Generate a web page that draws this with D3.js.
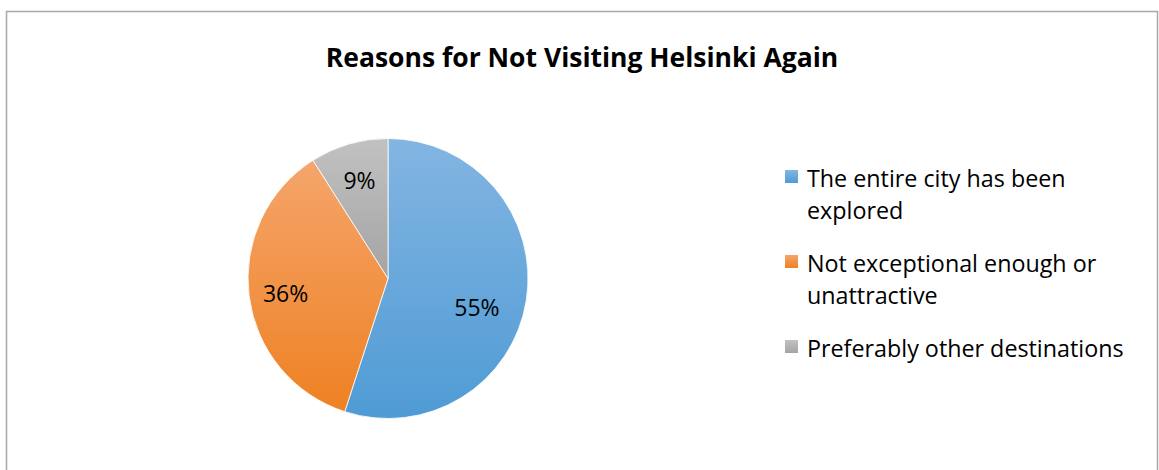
<!DOCTYPE html>
<html>
<head>
<meta charset="utf-8">
<script src="https://cdn.jsdelivr.net/npm/d3@7"></script>
<style>
  html, body { margin: 0; padding: 0; background: #fff; }
  svg { display: block; }
</style>
</head>
<body>
<svg id="chart" width="1159" height="470"></svg>
<script>
// Survey answers: why respondents would not visit Helsinki again
const categories = [
  "The entire city has been explored",
  "Not exceptional enough or unattractive",
  "Preferably other destinations"
];
const values = [55, 36, 9];
const legendLines = [
  ["The entire city has been", "explored"],
  ["Not exceptional enough or", "unattractive"],
  ["Preferably other destinations"]
];
const colorsTop = ["#83b5e2", "#f5a56c", "#c1c1c1"];
const colorsBottom = ["#4f9bd5", "#ee8122", "#a4a4a4"];
const titleText = "Reasons for Not Visiting Helsinki Again";

const W = 1159, H = 470;
const font = "'Open Sans', sans-serif";
const svg = d3.select("#chart");

// chart frame
svg.append("rect")
  .attr("x", 6.5).attr("y", 11.5)
  .attr("width", 1151).attr("height", 470)
  .attr("fill", "#fff")
  .attr("stroke", "#a9a9a9")
  .attr("stroke-width", 1.5);

svg.append("text")
  .attr("x", 582).attr("y", 67)
  .attr("text-anchor", "middle")
  .attr("font-family", font)
  .attr("font-weight", "bold")
  .attr("font-size", 26.5)
  .attr("fill", "#000")
  .text(titleText);

// vertical gradients, lighter toward the top of each slice
const defs = svg.append("defs");
categories.forEach((c, i) => {
  const g = defs.append("linearGradient")
    .attr("id", "grad" + i)
    .attr("x1", 0).attr("y1", 0).attr("x2", 0).attr("y2", 1);
  g.append("stop").attr("offset", "0%").attr("stop-color", colorsTop[i]);
  g.append("stop").attr("offset", "100%").attr("stop-color", colorsBottom[i]);
});

const cx = 388, cy = 278.5, R = 140;
const pie = d3.pie().sort(null).value(d => d);
const arcs = pie(values);
const arc = d3.arc().innerRadius(0).outerRadius(R);
const labelArc = d3.arc().innerRadius(R * 0.73).outerRadius(R * 0.73);
// best-fit nudges for the percentage labels (px, from the slice centroid)
const labelNudge = [[-12, 13], [-1, 2], [0, 0]];

const g = svg.append("g").attr("transform", `translate(${cx},${cy})`);
g.selectAll("path.slice")
  .data(arcs)
  .join("path")
  .attr("class", "slice")
  .attr("d", arc)
  .attr("fill", (d, i) => `url(#grad${i})`)
  .attr("stroke", "#fff")
  .attr("stroke-width", 0.8);

g.selectAll("text.pct")
  .data(arcs)
  .join("text")
  .attr("class", "pct")
  .attr("transform", (d, i) => {
    const [x, y] = labelArc.centroid(d);
    return `translate(${x + labelNudge[i][0]},${y + labelNudge[i][1]})`;
  })
  .attr("text-anchor", "middle")
  .attr("dy", "0.36em")
  .attr("font-family", font)
  .attr("font-size", 23)
  .attr("fill", "#000")
  .text(d => d.data + "%");

// legend
const legendY = [187, 272, 357];
const leg = svg.append("g");
legendLines.forEach((lines, i) => {
  leg.append("rect")
    .attr("x", 785).attr("y", legendY[i] - 17)
    .attr("width", 13).attr("height", 13)
    .attr("fill", `url(#grad${i})`);
  const t = leg.append("text")
    .attr("font-family", font)
    .attr("font-size", 23.3)
    .attr("fill", "#000");
  lines.forEach((ln, j) => {
    t.append("tspan")
      .attr("x", 807)
      .attr("y", legendY[i] + j * 31.5)
      .text(ln);
  });
});
</script>
</body>
</html>
